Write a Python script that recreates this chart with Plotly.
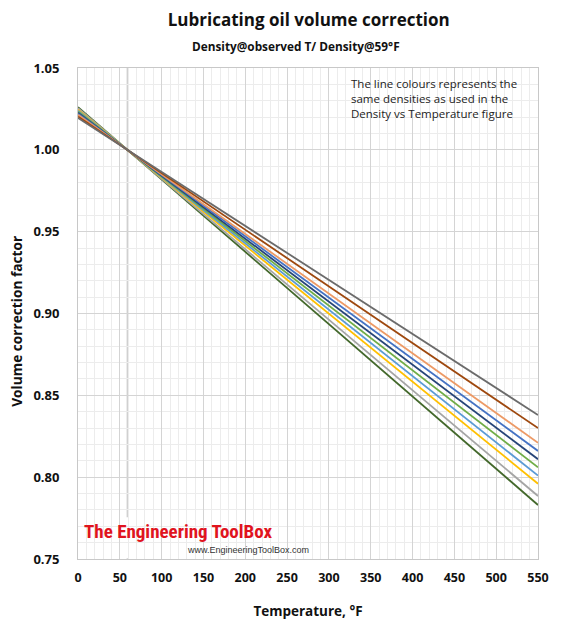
import plotly.graph_objects as go

# temperatures (°F) where values were read; lines are straight so three points each
TEMPS = [0, 59, 550]
REF_TEMP = 59

# volume correction factor per density line (top -> bottom at 550 °F)
VCF_1 = [1.0195, 1.0, 0.838]
VCF_2 = [1.0204, 1.0, 0.830]
VCF_3 = [1.0215, 1.0, 0.821]
VCF_4 = [1.0221, 1.0, 0.816]
VCF_5 = [1.0227, 1.0, 0.811]
VCF_6 = [1.0233, 1.0, 0.806]
VCF_7 = [1.0239, 1.0, 0.801]
VCF_8 = [1.0245, 1.0, 0.796]
VCF_9 = [1.0254, 1.0, 0.7885]
VCF_10 = [1.0261, 1.0, 0.783]

SERIES = [VCF_1, VCF_2, VCF_3, VCF_4, VCF_5, VCF_6, VCF_7, VCF_8, VCF_9, VCF_10]
COLORS = [
    "#6b6b6b",  # dark grey
    "#9e480e",  # brown
    "#ed9a66",  # light orange
    "#4472c4",  # blue
    "#264478",  # dark blue
    "#70ad47",  # green
    "#5b9bd5",  # light blue
    "#ffc000",  # yellow
    "#a5a5a5",  # grey
    "#43682b",  # dark green
]

FONT = "Open Sans"

fig = go.Figure()

# draw from bottom to top so the upper lines sit on top like the original
for vals, col in reversed(list(zip(SERIES, COLORS))):
    fig.add_trace(
        go.Scatter(
            x=TEMPS,
            y=vals,
            mode="lines",
            line=dict(color=col, width=1.8),
            hoverinfo="x+y",
        )
    )

# reference temperature gridline
fig.add_vline(x=REF_TEMP, line=dict(color="#d0d0d0", width=1.5), layer="below")

# white boxes behind the note and the logo (they hide the grid)
fig.add_shape(type="rect", xref="x", yref="y", x0=320, x1=549.5, y0=1.0135, y1=1.049,
              fillcolor="white", line=dict(width=0), layer="below")
fig.add_shape(type="rect", xref="x", yref="y", x0=0.5, x1=281, y0=0.7505, y1=0.7755,
              fillcolor="white", line=dict(width=0), layer="below")

fig.add_annotation(
    x=324, y=1.0465, xref="x", yref="y", xanchor="left", yanchor="top",
    text="The line colours represents the<br>same densities as used in the<br>Density vs Temperature figure",
    showarrow=False, align="left",
    font=dict(family=FONT, size=11.5, color="#222222"),
)

fig.add_annotation(
    x=5, y=0.7752, xref="x", yref="y", xanchor="left", yanchor="top",
    text="<b>The Engineering ToolBox</b>",
    showarrow=False,
    font=dict(family="Roboto Condensed, DejaVu Sans Condensed", size=19, color="#e0141e"),
)
fig.add_annotation(
    x=279, y=0.7555, xref="x", yref="y", xanchor="right", yanchor="middle",
    text="www.EngineeringToolBox.com",
    showarrow=False,
    font=dict(family="Liberation Sans", size=9, color="#333333"),
)

fig.add_annotation(
    text="<b>Density@observed T/ Density@59°F</b>",
    x=0.474, xref="paper", y=1.045, yref="paper", yanchor="middle",
    showarrow=False, font=dict(family=FONT, size=11.8, color="#111111"),
)

# y title as an annotation: it sits a little below the middle of the axis
fig.add_annotation(
    text="<b>Volume correction factor</b>",
    x=-0.1326, xref="paper", y=0.483, yref="paper", textangle=-90,
    xanchor="center", yanchor="middle",
    showarrow=False, font=dict(family=FONT, size=13.7, color="#111111"),
)

# the page body adds an 8 px offset, so the figure is 8 px smaller each way
fig.update_layout(
    width=557,
    height=622,
    showlegend=False,
    paper_bgcolor="white",
    plot_bgcolor="white",
    margin=dict(l=70, r=27, t=60, b=71),
    font=dict(family=FONT, color="#111111"),
    title=dict(
        text="<b>Lubricating oil volume correction</b>",
        x=0.54, xanchor="center", y=0.981, yanchor="middle",
        font=dict(family=FONT, size=17, color="#111111"),
    ),
)

fig.update_xaxes(
    range=[0, 550],
    dtick=50,
    tick0=0,
    showgrid=True,
    gridcolor="#d4d4d4",
    gridwidth=1,
    minor=dict(dtick=10, showgrid=True, gridcolor="#ececec", gridwidth=1),
    showline=True,
    linecolor="#c8c8c8",
    mirror=True,
    zeroline=False,
    ticks="",
    automargin=False,
    ticklabelstandoff=7,
    tickfont=dict(family=FONT, size=12.5, color="#111111", weight="bold"),
    title=dict(text="<b>Temperature, °F</b>", font=dict(family=FONT, size=13.5), standoff=21),
)
fig.update_yaxes(
    range=[0.75, 1.05],
    dtick=0.05,
    tick0=0.75,
    tickformat=".2f",
    showgrid=True,
    gridcolor="#d4d4d4",
    gridwidth=1,
    minor=dict(dtick=0.01, showgrid=True, gridcolor="#ececec", gridwidth=1),
    showline=True,
    linecolor="#c8c8c8",
    mirror=True,
    zeroline=False,
    ticks="",
    automargin=False,
    ticklabelstandoff=15,
    tickfont=dict(family=FONT, size=13, color="#111111", weight="bold"),
)

fig.write_html("out.html")
